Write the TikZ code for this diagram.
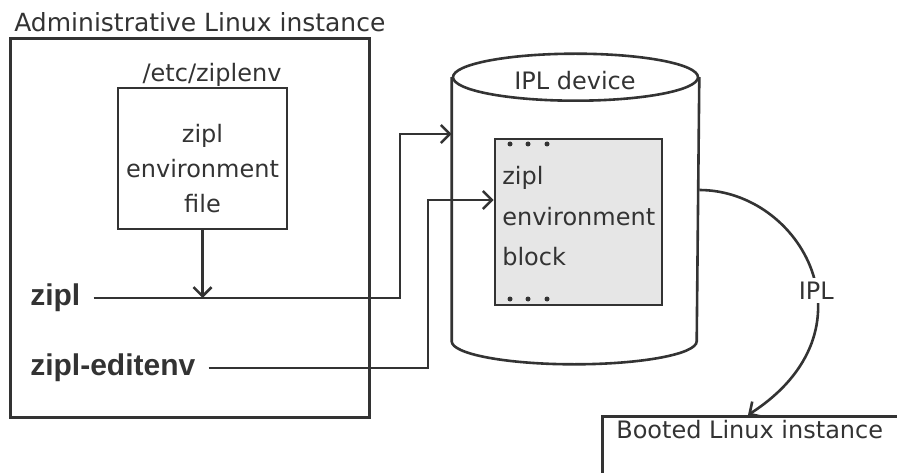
\documentclass[tikz,border=0pt]{standalone}
\usepackage{fontspec}
\setmainfont{DejaVu Sans}
\newfontfamily\cmdfont{Liberation Sans}
\usetikzlibrary{arrows.meta}
\definecolor{ink}{HTML}{333333}
\definecolor{blockgray}{HTML}{E6E6E6}

\begin{document}
\begin{tikzpicture}[x=1pt, y=1pt, line width=2.6pt, draw=ink, text=ink,
    >={Straight Barb[length=9pt,width=18pt]},
    every node/.style={inner sep=0pt, font=\fontsize{24}{36}\selectfont},
    box/.style={draw, line width=3pt},
    cmd/.style={font=\cmdfont\bfseries\fontsize{30}{36}\selectfont, inner xsep=12pt, anchor=west}]
    \useasboundingbox (0,0) rectangle (897,472);
    \clip (0,0) rectangle (897,472);
    \node[box, minimum width=359, minimum height=379, anchor=north west] (admin) at (9,435) {};
    \node[anchor=base west, font=\fontsize{25}{30}\selectfont] (title) at (13,440) {Administrative Linux instance};
    \node[box, line width=2.6pt, minimum width=169, minimum height=141] (file) at (202.5,313.5) {};
    \node[anchor=base] (fname) at (212,390) {/etc/ziplenv};
    \node[align=center, anchor=base, font=\fontsize{24}{35}\selectfont] (filetxt) at (202.5,259) {zipl\\environment\\file};
    \node[cmd] (zipl) at (17,174) {zipl};
    \node[cmd] (edit) at (17,104) {zipl-editenv};
    \node[minimum width=245, minimum height=261.5] (dev) at (575.5,262.75) {};
    \draw (dev.north west) -- (dev.south west) arc[start angle=180, end angle=360, x radius=122.5, y radius=23] -- (dev.north east);
    \draw (dev.north) ellipse[x radius=122.5, y radius=23.5];
    \node[anchor=base] (devname) at (575,382) {IPL device};
    \node[draw, fill=blockgray, minimum width=167, minimum height=166] (blk) at (578.5,250) {};
    \node[align=left, anchor=base west, font=\fontsize{24}{40}\selectfont] (blktxt) at (501,207) {zipl\\environment\\block};
    \foreach \x in {510,528,547} {
        \fill[ink] (\x,328) circle (2.5);
        \fill[ink] (\x,173) circle (2.5);
    }
    \node[draw, anchor=north west, minimum width=320, minimum height=80] (boot) at (601,57) {};
    \node[anchor=base west] (boottxt) at (615,34) {Booted Linux instance};
    \coordinate (bendA) at (400,338);
    \coordinate (bendB) at (428,272);
    \draw[->] (file.south) -- (file.south |- zipl.east);
    \draw[->] (zipl.east) -| (bendA) -- (bendA -| dev.west);
    \draw[->] (edit.east) -| (bendB) -- (bendB -| blk.west);
    \draw[->] ([yshift=19.25pt]dev.east) .. controls +(102,0) and +(132,85) .. ([xshift=147pt]boot.north west)
        node[pos=0.57, fill=white, inner sep=4pt] (ipl) {IPL};
\end{tikzpicture}
\end{document}
